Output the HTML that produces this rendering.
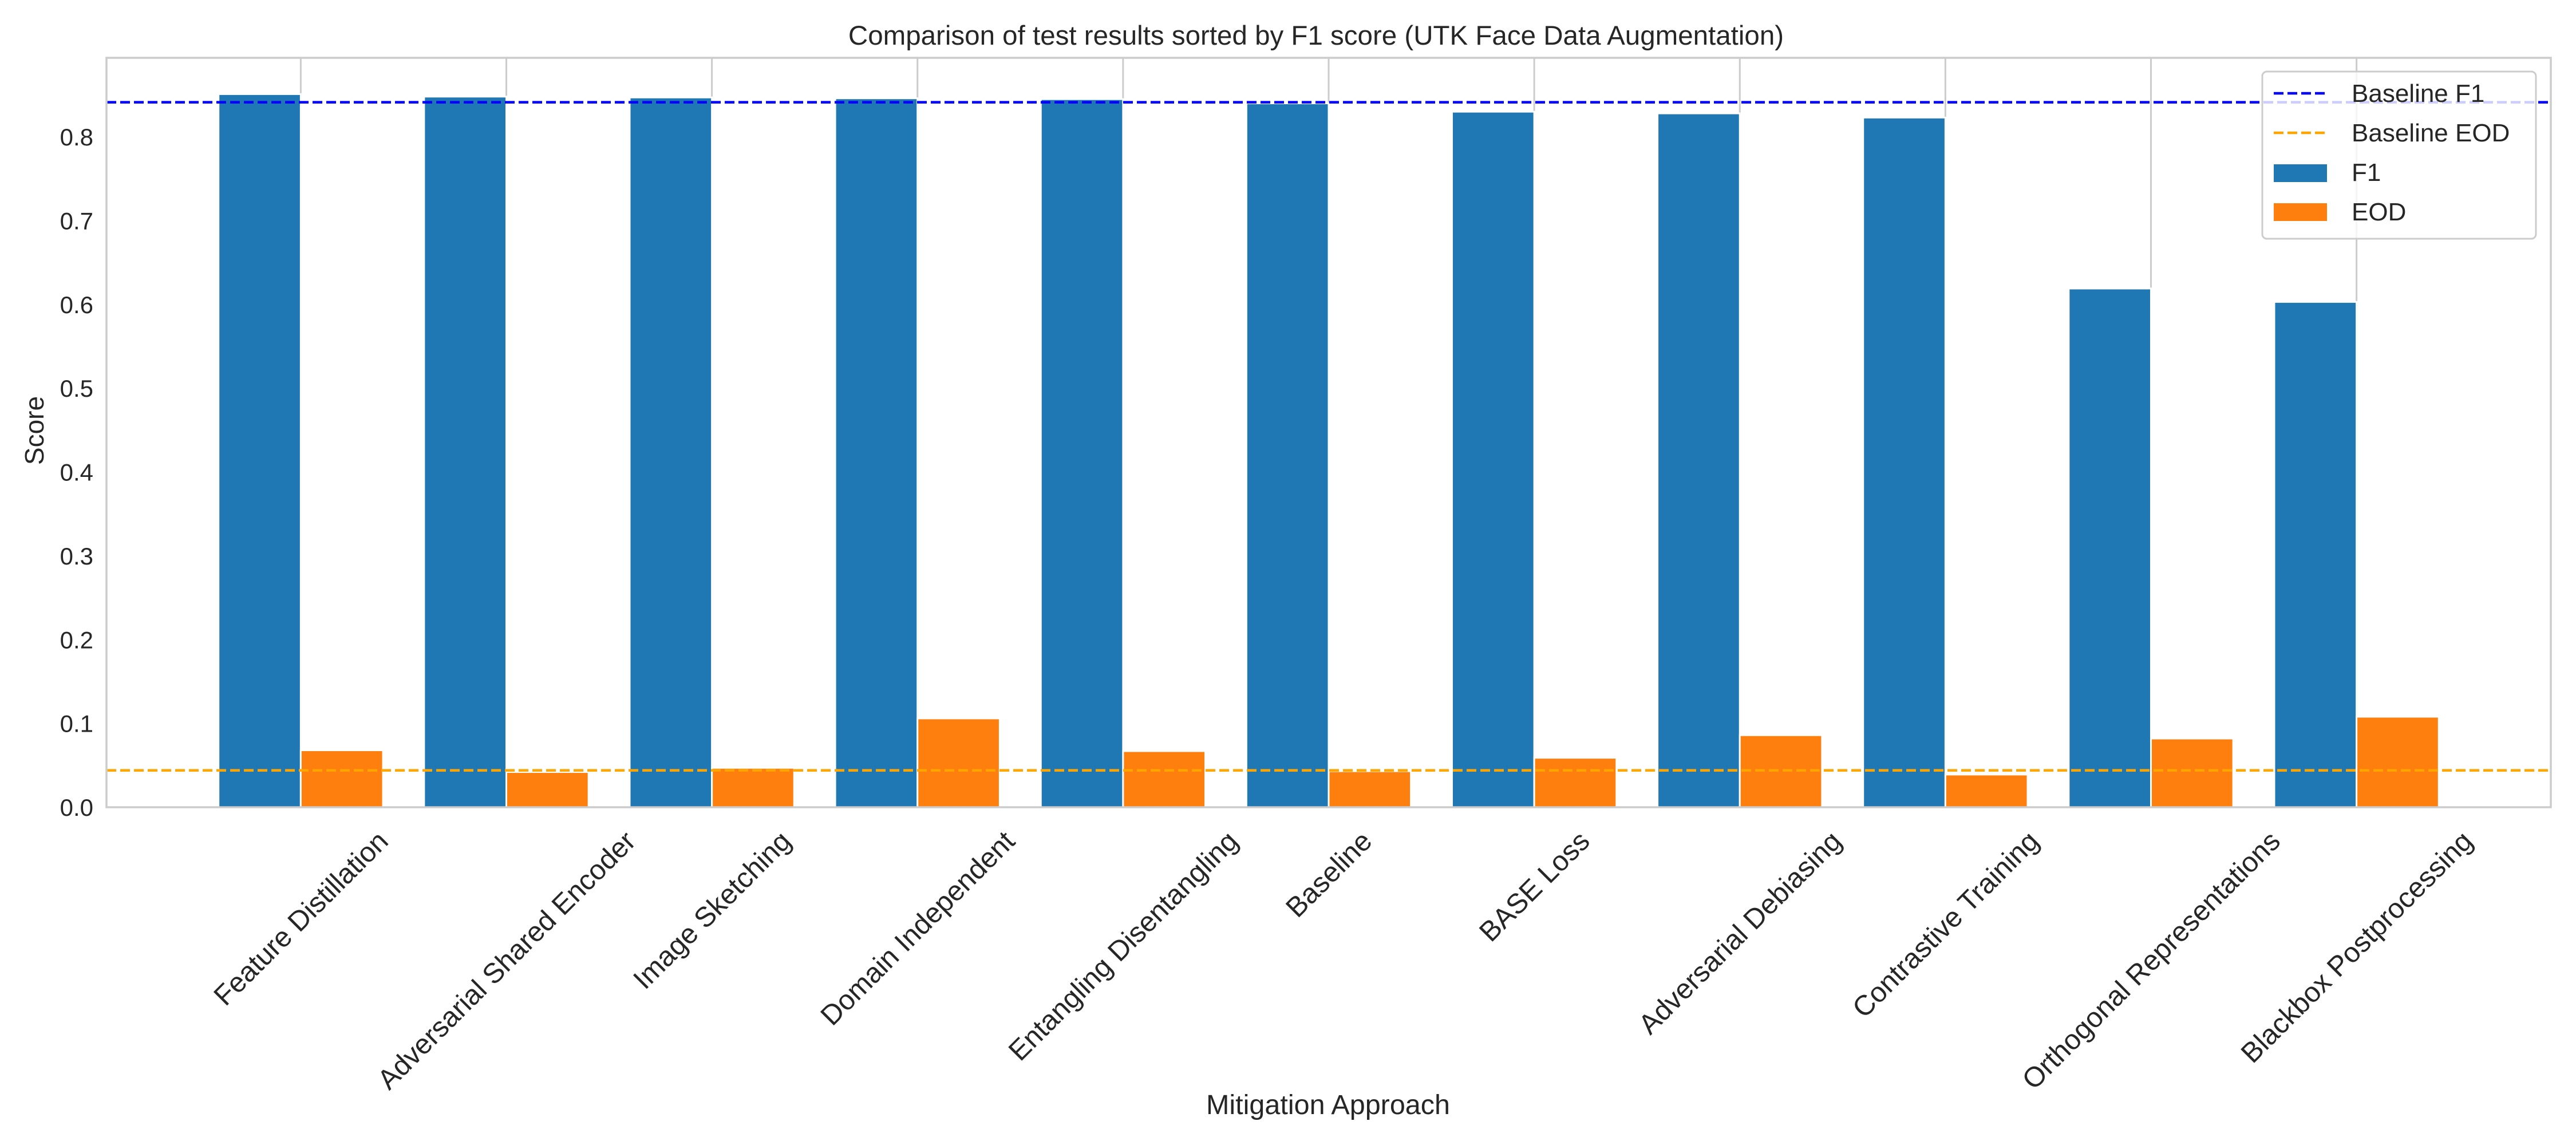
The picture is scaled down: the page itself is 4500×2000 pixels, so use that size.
<!DOCTYPE html>
<html><head><meta charset="utf-8"><style>
html,body{margin:0;padding:0;background:#fff;}
svg{display:block;font-family:"Liberation Sans",Arial,sans-serif;}
</style></head><body>
<svg id="chart" width="4500" height="2000" viewBox="0 0 4500 2000" xmlns="http://www.w3.org/2000/svg">
<rect x="0" y="0" width="4500" height="2000" fill="#fff"/>
<text x="2299" y="78" text-anchor="middle" font-size="47.5" fill="#262626">Comparison of test results sorted by F1 score (UTK Face Data Augmentation)</text>
<g id="grid"></g>
<g id="bars"></g>
<g id="refs"></g>
<rect x="186" y="101" width="4270" height="1309" fill="none" stroke="#cccccc" stroke-width="3.5"/>
<g id="yticks"></g>
<g id="xticks"></g>
<text x="0" y="0" transform="translate(76,752) rotate(-90)" text-anchor="middle" font-size="46" fill="#262626">Score</text>
<text x="2320" y="1946" text-anchor="middle" font-size="48.5" fill="#262626">Mitigation Approach</text>
<g>
  <rect x="3952" y="125" width="478" height="292" rx="8" fill="#fff" fill-opacity="0.8" stroke="#cccccc" stroke-width="3"/>
  <line x1="3972" y1="163" x2="4068" y2="163" stroke="#0000ff" stroke-width="4.5" stroke-dasharray="17,7"/>
  <text x="4108" y="178" font-size="44" fill="#262626">Baseline F1</text>
  <line x1="3972" y1="232" x2="4068" y2="232" stroke="#ffa500" stroke-width="4.5" stroke-dasharray="17,7"/>
  <text x="4108" y="247" font-size="44" fill="#262626">Baseline EOD</text>
  <rect x="3972" y="287" width="93" height="31" fill="#1f77b4"/>
  <text x="4108" y="316" font-size="44" fill="#262626">F1</text>
  <rect x="3972" y="355" width="93" height="31" fill="#ff7f0e"/>
  <text x="4108" y="385" font-size="44" fill="#262626">EOD</text>
</g>
</svg>
<script>
const categories = ["Feature Distillation","Adversarial Shared Encoder","Image Sketching","Domain Independent","Entangling Disentangling","Baseline","BASE Loss","Adversarial Debiasing","Contrastive Training","Orthogonal Representations","Blackbox Postprocessing"];
const f1Values = [0.851,0.848,0.847,0.846,0.845,0.840,0.830,0.828,0.823,0.619,0.603];
const eodValues = [0.068,0.042,0.047,0.106,0.067,0.043,0.059,0.086,0.039,0.082,0.108];
const baselineF1 = 0.8413;
const baselineEOD = 0.044;
const yTicks = [0.0,0.1,0.2,0.3,0.4,0.5,0.6,0.7,0.8];
const yTickLabels = ["0.0","0.1","0.2","0.3","0.4","0.5","0.6","0.7","0.8"];

const NS = "http://www.w3.org/2000/svg";
const L = 186, R = 4456, T = 101, B = 1410;
const yMin = 0, yMax = 0.8943;
const xMin = -0.945, xMax = 10.945;
function xs(v){ return L + (v - xMin) / (xMax - xMin) * (R - L); }
function ys(v){ return B - (v - yMin) / (yMax - yMin) * (B - T); }
function mk(tag, attrs){ const e = document.createElementNS(NS, tag); for (const k in attrs) e.setAttribute(k, attrs[k]); return e; }

const grid = document.getElementById('grid');
const bars = document.getElementById('bars');
const refs = document.getElementById('refs');
const yt = document.getElementById('yticks');
const xt = document.getElementById('xticks');
const bw = 0.4;

categories.forEach((c, i) => {
  const gl = mk('line', {x1: xs(i), x2: xs(i), y1: T, y2: B, stroke: '#cccccc', 'stroke-width': 3});
  
  
  grid.appendChild(gl);

  const x0 = xs(i - bw), x1 = xs(i), x2 = xs(i + bw);
  const b1 = mk('rect', {x: x0, y: ys(f1Values[i]), width: x1 - x0, height: ys(0) - ys(f1Values[i]), fill: '#1f77b4', stroke: '#fff', 'stroke-width': 3});
  
  
  bars.appendChild(b1);
  const b2 = mk('rect', {x: x1, y: ys(eodValues[i]), width: x2 - x1, height: ys(0) - ys(eodValues[i]), fill: '#ff7f0e', stroke: '#fff', 'stroke-width': 3});
  
  
  bars.appendChild(b2);

  const t = mk('text', {'font-size': 49, fill: '#262626', 'text-anchor': 'middle'});
  t.textContent = c;
  
  
  xt.appendChild(t);
  const w = t.getComputedTextLength();
  const h = 49;
  const half = (w + h) * Math.SQRT1_2 / 2;
  const cx = xs(i), cy = 1443 + half;
  t.setAttribute('x', 0);
  t.setAttribute('y', 17);
  t.setAttribute('transform', 'translate(' + cx + ',' + cy + ') rotate(-45)');
});

const lf = mk('line', {x1: L, x2: R, y1: ys(baselineF1), y2: ys(baselineF1), stroke: '#0000ff', 'stroke-width': 4.5, 'stroke-dasharray': '17,7'});


refs.appendChild(lf);
const le = mk('line', {x1: L, x2: R, y1: ys(baselineEOD), y2: ys(baselineEOD), stroke: '#ffa500', 'stroke-width': 4.5, 'stroke-dasharray': '17,7'});


refs.appendChild(le);

yTicks.forEach((v, i) => {
  const t = mk('text', {x: 163, y: ys(v) + 15, 'font-size': 42, fill: '#262626', 'text-anchor': 'end'});
  t.textContent = yTickLabels[i];
  
  
  yt.appendChild(t);
});
</script>
</body></html>
